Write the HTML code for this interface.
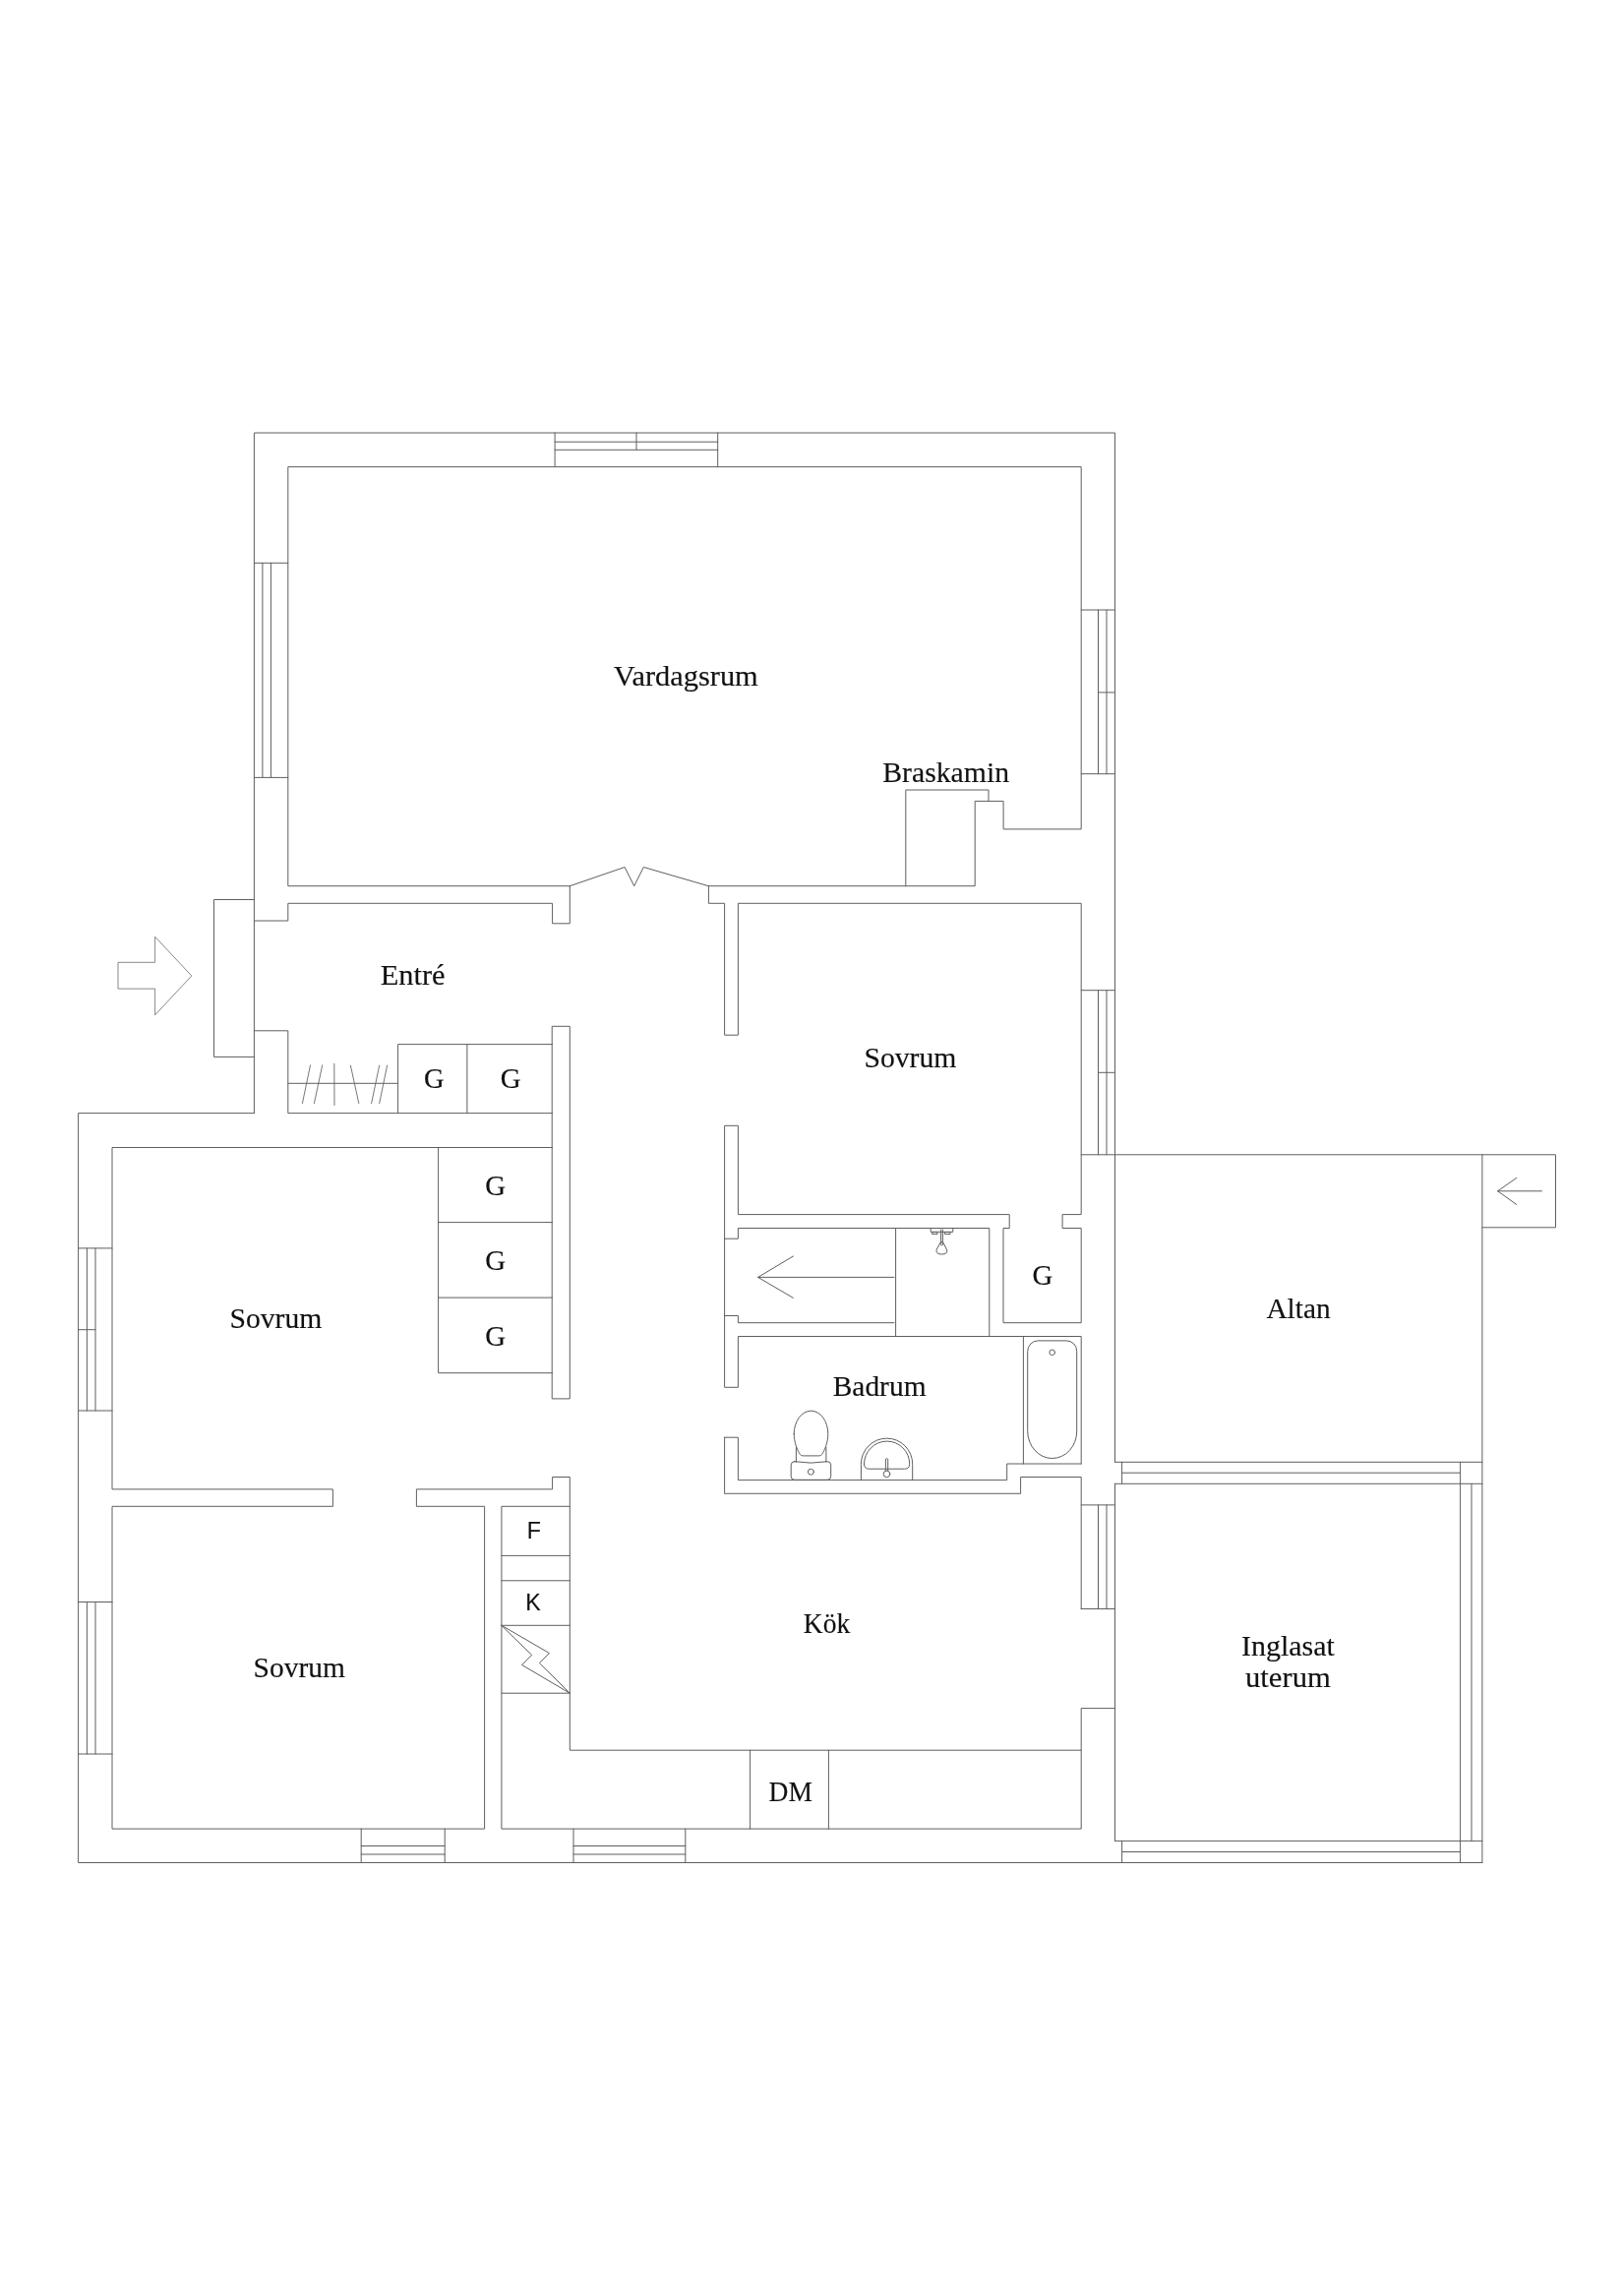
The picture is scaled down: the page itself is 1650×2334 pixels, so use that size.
<!DOCTYPE html>
<html lang="sv"><head><meta charset="utf-8"><title>Planritning</title>
<style>
html,body{margin:0;padding:0;background:#fff}
body{width:1650px;height:2334px;overflow:hidden}
svg{display:block}
.w path,.w circle,.w rect{fill:none;stroke:#5e5e5e;stroke-width:1.0;stroke-linejoin:round;stroke-linecap:round}
text{fill:#111;stroke:#111;stroke-width:0.15px}
</style></head><body>
<svg width="1650" height="2334" viewBox="0 0 1650 2334">
<rect width="1650" height="2334" fill="#fff"/>
<g class="w">
<path d="M258.4,1131.6 L258.4,440.0 L1133.5,440.0 L1133.5,1486.3 M1133.5,1508.3 L1133.5,1871.4 M258.4,1131.6 L79.6,1131.6 L79.6,1893.5 L1506.9,1893.5 M720.4,900.7 L991.2,900.7 L991.2,814.4 L1020.1,814.4 L1020.1,842.9 L1099.2,842.9 L1099.2,474.6 L292.8,474.6 L292.8,900.7 L579.3,900.7 M920.8,900.7 L920.8,803.0 L1005.0,803.0 L1005.0,814.4 M579.3,900.7 L635.1,881.5 L644.7,900.7 L654.3,881.5 L720.4,900.7 M258.4,936.0 L292.8,936.0 L292.8,918.3 L561.6,918.3 L561.6,938.8 L579.3,938.8 L579.3,900.7 M258.4,914.5 L217.5,914.5 L217.5,1074.4 L258.4,1074.4 M258.4,1047.8 L292.8,1047.8 L292.8,1131.6 L561.6,1131.6 M292.8,1101.3 L404.6,1101.3 M404.6,1131.6 L404.6,1061.6 L561.6,1061.6 M474.9,1061.6 L474.9,1131.6 M561.6,1043.3 L579.3,1043.3 L579.3,1421.9 L561.6,1421.9 Z M561.6,1166.5 L114.0,1166.5 L114.0,1513.9 L338.4,1513.9 L338.4,1531.3 L114.0,1531.3 L114.0,1859.1 L492.6,1859.1 L492.6,1531.3 L423.4,1531.3 L423.4,1513.9 L561.6,1513.9 L561.6,1501.5 L579.3,1501.5 L579.3,1779.2 L1099.2,1779.2 M445.6,1166.5 L445.6,1395.7 L561.6,1395.7 M445.6,1242.6 L561.6,1242.6 M445.6,1319.1 L561.6,1319.1 M579.3,1531.3 L509.9,1531.3 L509.9,1859.1 L1099.2,1859.1 L1099.2,1736.6 L1133.5,1736.6 M509.9,1581.4 L579.3,1581.4 M509.9,1606.8 L579.3,1606.8 M509.9,1652.3 L579.3,1652.3 M509.9,1721.2 L579.3,1721.2 M762.6,1779.2 L762.6,1859.1 M842.4,1779.2 L842.4,1859.1 M509.9,1652.3 L558.4,1680.5 L548.4,1690.6 L579.3,1721.2 L530.6,1692.5 L540.4,1682.7 Z M720.4,900.7 L720.4,918.3 L736.6,918.3 L736.6,1052.2 L750.4,1052.2 L750.4,918.3 L1099.2,918.3 L1099.2,1234.6 L1080.1,1234.6 L1080.1,1248.5 L1099.2,1248.5 L1099.2,1344.7 L1020.0,1344.7 L1020.0,1248.5 L1026.2,1248.5 L1026.2,1234.6 L750.4,1234.6 L750.4,1144.3 L736.6,1144.3 L736.6,1410.3 L750.4,1410.3 L750.4,1358.5 L1099.2,1358.5 L1099.2,1488.0 M736.6,1259.2 L750.4,1259.2 L750.4,1248.5 L1005.8,1248.5 L1005.8,1358.5 M910.6,1248.5 L910.6,1358.5 M736.6,1337.5 L750.4,1337.5 L750.4,1344.7 L909.0,1344.7 M770.6,1298.4 L909.0,1298.4 M806.4,1277.0 L770.6,1298.4 L806.4,1319.4 M736.6,1461.2 L750.4,1461.2 L750.4,1504.6 L1023.7,1504.6 L1023.7,1488.0 L1099.2,1488.0 M736.6,1461.2 L736.6,1518.3 L1037.6,1518.3 L1037.6,1501.5 L1099.2,1501.5 L1099.2,1635.5 M1040.4,1358.5 L1040.4,1488.0 M564.1,440.0 L564.1,474.6 M729.7,440.0 L729.7,474.6 M564.1,449.2 L729.7,449.2 M564.1,457.3 L729.7,457.3 M647.0,440.0 L647.0,457.3 M258.4,572.3 L292.8,572.3 M258.4,790.4 L292.8,790.4 M266.9,572.3 L266.9,790.4 M275.4,572.3 L275.4,790.4 M1099.2,620.0 L1133.5,620.0 M1099.2,786.7 L1133.5,786.7 M1116.5,620.0 L1116.5,786.7 M1125.0,620.0 L1125.0,786.7 M1116.5,703.9 L1133.5,703.9 M1099.2,1006.7 L1133.5,1006.7 M1099.2,1173.8 L1133.5,1173.8 M1116.5,1006.7 L1116.5,1173.8 M1125.0,1006.7 L1125.0,1173.8 M1116.5,1090.3 L1133.5,1090.3 M1099.2,1529.9 L1133.5,1529.9 M1099.2,1635.5 L1133.5,1635.5 M1116.5,1529.9 L1116.5,1635.5 M1125.0,1529.9 L1125.0,1635.5 M79.6,1268.9 L114.0,1268.9 M79.6,1434.0 L114.0,1434.0 M88.4,1268.9 L88.4,1434.0 M97.0,1268.9 L97.0,1434.0 M79.6,1351.7 L97.0,1351.7 M79.6,1628.5 L114.0,1628.5 M79.6,1783.0 L114.0,1783.0 M88.4,1628.5 L88.4,1783.0 M97.0,1628.5 L97.0,1783.0 M367.2,1859.1 L367.2,1893.5 M452.2,1859.1 L452.2,1893.5 M367.2,1876.5 L452.2,1876.5 M367.2,1885.0 L452.2,1885.0 M583.0,1859.1 L583.0,1893.5 M696.8,1859.1 L696.8,1893.5 M583.0,1876.5 L696.8,1876.5 M583.0,1885.0 L696.8,1885.0 M1133.5,1173.8 L1581.5,1173.8 L1581.5,1247.8 L1506.9,1247.8 M1506.9,1173.8 L1506.9,1893.5 M1133.5,1486.3 L1506.9,1486.3 M1522.6,1210.8 L1567.5,1210.8 M1541.8,1197.4 L1522.6,1210.8 L1541.8,1224.5 M1140.6,1497.2 L1484.6,1497.2 M1133.5,1508.3 L1506.9,1508.3 M1140.6,1486.3 L1140.6,1508.3 M1484.6,1486.3 L1484.6,1893.5 M1496.0,1508.3 L1496.0,1871.4 M1133.5,1871.4 L1506.9,1871.4 M1140.6,1882.5 L1484.6,1882.5 M1140.6,1871.4 L1140.6,1893.5"/>
<path style="stroke-width:0.85" d="M315.5,1082.8 L307.4,1121.6 M327.7,1082.8 L319.4,1121.6 M339.8,1081.3 L340.0,1123.5 M356.4,1083.1 L364.8,1121.6 M385.7,1083.1 L377.6,1121.6 M393.6,1083.1 L385.7,1121.6"/>
<path style="stroke-width:0.8;stroke:#6a6a6a" d="M120.4,978.3 L157.6,978.3 L157.6,952.2 L194.8,992 L157.6,1031.8 L157.6,1005.1 L120.4,1005.1 Z"/>
<path d="M1044.7,1373.4 A10.5,10.5 0 0 1 1055.2,1362.9 L1084.2,1362.9 A10.5,10.5 0 0 1 1094.7,1373.4 L1094.7,1455 A25,27.5 0 0 1 1044.7,1455 Z"/>
<circle cx="1069.7" cy="1374.8" r="2.8"/>
<path d="M807.2,1457.5 A17.3,23.3 0 0 1 841.8,1457.5 C841.8,1466 838.6,1474 835.6,1478.5 Q834.6,1479.9 832.6,1479.9 L816.4,1479.9 Q814.4,1479.9 813.4,1478.5 C810.4,1474 807.2,1466 807.2,1457.5 Z"/>
<path d="M809.4,1471.5 L809.4,1486.3 M839.9,1471.5 L839.9,1486.3"/>
<path d="M807.7,1485.7 Q824.4,1488.6 841.2,1485.7 Q844.7,1485.7 844.7,1489.2 L844.7,1500.8 Q844.7,1504.3 841.2,1504.3 L807.7,1504.3 Q804.2,1504.3 804.2,1500.8 L804.2,1489.2 Q804.2,1485.7 807.7,1485.7 Z"/>
<circle cx="824.4" cy="1496.2" r="3"/>
<path d="M875.4,1504.6 L875.4,1488.3 A26.15,26.15 0 0 1 927.7,1488.3 L927.7,1504.6"/>
<path d="M878.5,1488.2 A23.1,23.1 0 0 1 924.7,1488.2 Q924.7,1493.2 919.7,1493.2 L883.5,1493.2 Q878.5,1493.2 878.5,1488.2 Z"/>
<path d="M900.4,1495.2 L900.4,1483.2 Q901.55,1482.2 902.7,1483.2 L902.7,1495.2"/>
<circle cx="901.5" cy="1498.4" r="3.3" fill="#fff"/>
<path d="M946.2,1248.5 L946.2,1252.3 L968.8,1252.3 L968.8,1248.5"/>
<rect x="948.1" y="1252.6" width="4.9" height="2" fill="#777" stroke="none"/>
<rect x="960.8" y="1252.6" width="5.2" height="2" fill="#777" stroke="none"/>
<path d="M956.6,1250 L956.6,1262.5 M958.4,1250 L958.4,1262.5"/>
<path d="M955.3,1264.2 A2.15,2.15 0 0 1 959.5,1264.2 L962.8,1271 Q963.2,1275 957.4,1275 Q951.6,1275 952,1271 Z"/>
<circle cx="957.4" cy="1264.6" r="1.3"/>
</g>
<g style="filter:grayscale(1)">
<text x="623.81" y="697.0" font-size="30.2" font-family='"Liberation Serif", serif' textLength="146.95" lengthAdjust="spacingAndGlyphs">Vardagsrum</text>
<text x="897.30" y="795.0" font-size="30.2" font-family='"Liberation Serif", serif' textLength="128.73" lengthAdjust="spacingAndGlyphs">Braskamin</text>
<text x="386.75" y="1001.0" font-size="30.2" font-family='"Liberation Serif", serif' textLength="65.81" lengthAdjust="spacingAndGlyphs">Entré</text>
<text x="431.12" y="1106.0" font-size="30.2" font-family='"Liberation Serif", serif' textLength="20.62" lengthAdjust="spacingAndGlyphs">G</text>
<text x="508.68" y="1106.0" font-size="30.2" font-family='"Liberation Serif", serif' textLength="20.90" lengthAdjust="spacingAndGlyphs">G</text>
<text x="493.17" y="1215.0" font-size="30.2" font-family='"Liberation Serif", serif' textLength="20.84" lengthAdjust="spacingAndGlyphs">G</text>
<text x="493.17" y="1291.0" font-size="30.2" font-family='"Liberation Serif", serif' textLength="20.84" lengthAdjust="spacingAndGlyphs">G</text>
<text x="493.17" y="1368.0" font-size="30.2" font-family='"Liberation Serif", serif' textLength="20.84" lengthAdjust="spacingAndGlyphs">G</text>
<text x="233.47" y="1350.0" font-size="30.2" font-family='"Liberation Serif", serif' textLength="93.86" lengthAdjust="spacingAndGlyphs">Sovrum</text>
<text x="878.45" y="1085.0" font-size="30.2" font-family='"Liberation Serif", serif' textLength="94.00" lengthAdjust="spacingAndGlyphs">Sovrum</text>
<text x="1049.60" y="1306.0" font-size="30.2" font-family='"Liberation Serif", serif' textLength="20.80" lengthAdjust="spacingAndGlyphs">G</text>
<text x="846.73" y="1418.6" font-size="30.2" font-family='"Liberation Serif", serif' textLength="94.81" lengthAdjust="spacingAndGlyphs">Badrum</text>
<text x="1287.44" y="1340.0" font-size="30.2" font-family='"Liberation Serif", serif' textLength="65.17" lengthAdjust="spacingAndGlyphs">Altan</text>
<text x="1262.04" y="1682.6" font-size="30.2" font-family='"Liberation Serif", serif' textLength="94.81" lengthAdjust="spacingAndGlyphs">Inglasat</text>
<text x="1265.96" y="1715.0" font-size="30.2" font-family='"Liberation Serif", serif' textLength="86.88" lengthAdjust="spacingAndGlyphs">uterum</text>
<text x="257.59" y="1705.0" font-size="30.2" font-family='"Liberation Serif", serif' textLength="93.30" lengthAdjust="spacingAndGlyphs">Sovrum</text>
<text x="816.82" y="1660.0" font-size="30.2" font-family='"Liberation Serif", serif' textLength="47.43" lengthAdjust="spacingAndGlyphs">Kök</text>
<text x="781.57" y="1831.0" font-size="30.2" font-family='"Liberation Serif", serif' textLength="44.34" lengthAdjust="spacingAndGlyphs">DM</text>
<text x="535.79" y="1564.0" font-size="24" font-family='"Liberation Sans", sans-serif' textLength="14.15" lengthAdjust="spacingAndGlyphs">F</text>
<text x="534.23" y="1637.0" font-size="24" font-family='"Liberation Sans", sans-serif' textLength="15.44" lengthAdjust="spacingAndGlyphs">K</text>
</g>
</svg>
</body></html>
